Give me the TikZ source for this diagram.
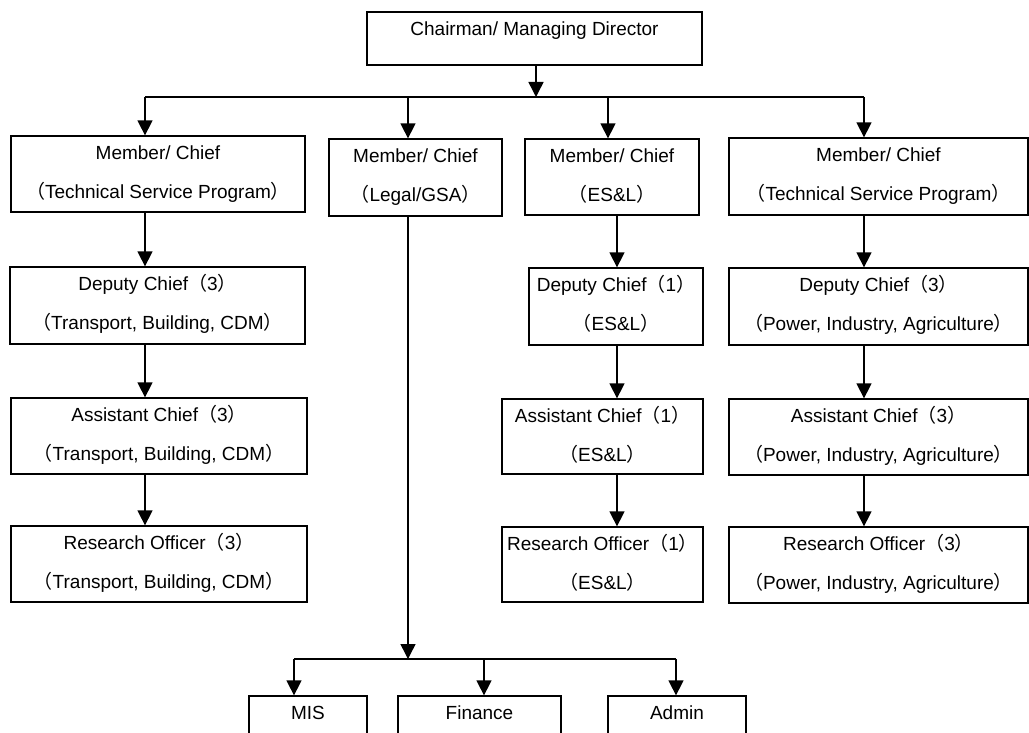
\documentclass[tikz,border=0pt]{standalone}
\usepackage{fontspec}
\setmainfont{Liberation Sans}
\newfontfamily\cjk{Noto Sans CJK JP}
\usetikzlibrary{arrows.meta}
% full-width parentheses
\newcommand\po{{\cjk （}}
\newcommand\pc{{\cjk ）}}
% box text: height, width, lines
\newcommand\boxtext[3]{\parbox[c][#1pt][t]{#2pt}{\centering\fontsize{19}{39}\selectfont\rule{0pt}{23.5pt}#3}}
\begin{document}
\begin{tikzpicture}[x=1pt,y=-1pt,
  unit/.style={draw, line width=1.3pt, inner sep=0pt, rectangle},
  link/.style={line width=1.5pt},
  arr/.style={line width=1.5pt, -{Triangle[length=15pt,width=15pt]}}]
\clip (0,0) rectangle (1029,733);
\fill[white] (0,0) rectangle (1029,733);

% top level
\node[unit] (chair) at (534.5,38.5) {\boxtext{53}{335}{Chairman/ Managing Director}};

% members
\node[unit] (m1) at (158,174)   {\boxtext{76}{294}{Member/ Chief\\\po Technical Service Program\pc}};
\node[unit] (m2) at (415.5,177.5) {\boxtext{77}{173}{Member/ Chief\\\po Legal/GSA\pc}};
\node[unit] (m3) at (612,177)   {\boxtext{76}{174}{Member/ Chief\\\po ES\&L\pc}};
\node[unit] (m4) at (878.5,176.5) {\boxtext{77}{299}{Member/ Chief\\\po Technical Service Program\pc}};

% deputies
\node[unit] (d1) at (157.5,305.5) {\boxtext{77}{295}{Deputy Chief\po 3\pc\\\po Transport, Building, CDM\pc}};
\node[unit] (d3) at (616,306.5)   {\boxtext{77}{174}{Deputy Chief\po 1\pc\\\po ES\&L\pc}};
\node[unit] (d4) at (878.5,306.5) {\boxtext{77}{299}{Deputy Chief\po 3\pc\\\po Power, Industry, Agriculture\pc}};

% assistants
\node[unit] (a1) at (159,436)   {\boxtext{76}{296}{Assistant Chief\po 3\pc\\\po Transport, Building, CDM\pc}};
\node[unit] (a3) at (602.5,436.5) {\boxtext{75}{201}{Assistant Chief\po 1\pc\\\po ES\&L\pc}};
\node[unit] (a4) at (878.5,437)  {\boxtext{76}{299}{Assistant Chief\po 3\pc\\\po Power, Industry, Agriculture\pc}};

% research officers
\node[unit] (r1) at (159,564)   {\boxtext{76}{296}{Research Officer\po 3\pc\\\po Transport, Building, CDM\pc}};
\node[unit] (r3) at (602.5,564.5) {\boxtext{75}{201}{Research Officer\po 1\pc\\\po ES\&L\pc}};
\node[unit] (r4) at (878.5,565)  {\boxtext{76}{299}{Research Officer\po 3\pc\\\po Power, Industry, Agriculture\pc}};

% support units
\node[unit] (mis) at (308,734)   {\boxtext{76}{118}{MIS}};
\node[unit] (fin) at (479.5,734) {\boxtext{76}{163}{Finance}};
\node[unit] (adm) at (677,734)   {\boxtext{76}{138}{Admin}};

% connector columns and buses
\coordinate (colT) at (536,0);
\coordinate (colA) at (145,0);
\coordinate (colB) at (408,0);
\coordinate (colC) at (608,0);
\coordinate (colCc) at (617,0);
\coordinate (colD) at (864,0);
\coordinate (busL) at (145,97);
\coordinate (busR) at (864,97);
\coordinate (lbus) at (408,659);
\coordinate (lbusL) at (294,659);
\coordinate (lbusM) at (484,659);
\coordinate (lbusR) at (676,659);

% chairman to members
\draw[arr] (chair.south -| colT) -- (busL -| colT);
\draw[link] (busL) -- (busR);
\draw[arr] (busL) -- (m1.north -| colA);
\draw[arr] (busL -| colB) -- (m2.north -| colB);
\draw[arr] (busL -| colC) -- (m3.north -| colC);
\draw[arr] (busR) -- (m4.north -| colD);

% left chain
\draw[arr] (m1.south -| colA) -- (d1.north -| colA);
\draw[arr] (d1.south -| colA) -- (a1.north -| colA);
\draw[arr] (a1.south -| colA) -- (r1.north -| colA);

% ES&L chain
\draw[arr] (m3.south -| colCc) -- (d3.north -| colCc);
\draw[arr] (d3.south -| colCc) -- (a3.north -| colCc);
\draw[arr] (a3.south -| colCc) -- (r3.north -| colCc);

% right chain
\draw[arr] (m4.south -| colD) -- (d4.north -| colD);
\draw[arr] (d4.south -| colD) -- (a4.north -| colD);
\draw[arr] (a4.south -| colD) -- (r4.north -| colD);

% legal branch to support units
\draw[arr] (m2.south -| colB) -- (lbus);
\draw[link] (lbusL) -- (lbusR);
\draw[arr] (lbusL) -- (mis.north -| lbusL);
\draw[arr] (lbusM) -- (fin.north -| lbusM);
\draw[arr] (lbusR) -- (adm.north -| lbusR);
\end{tikzpicture}
\end{document}
